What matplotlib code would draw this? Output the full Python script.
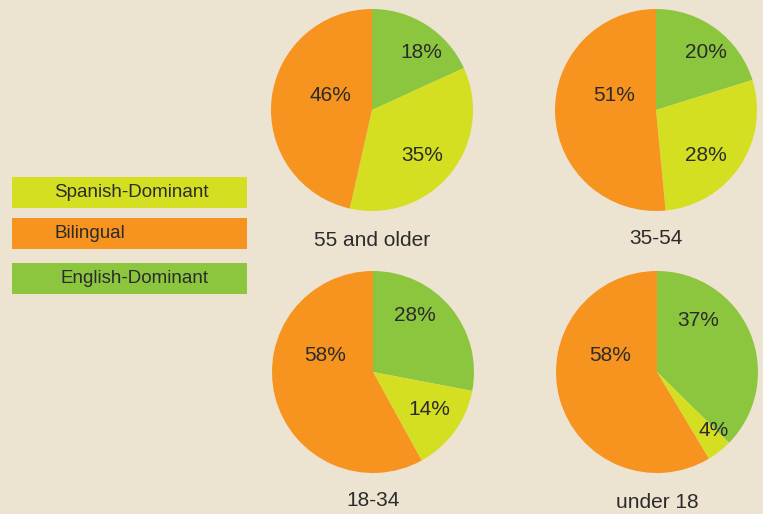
"""Language dominance by age group, four pies with a box legend"""

import matplotlib
matplotlib.use('Agg')
import matplotlib.pyplot as plt
from matplotlib.patches import Rectangle

plt.rcParams['font.family'] = ['Liberation Sans', 'DejaVu Sans']

W, H = 763, 514

# data: clockwise from 12 o'clock -> English, Spanish, Bilingual
groups = ['55 and older', '35-54', '18-34', 'under 18']
english = [18, 20, 28, 37]
spanish = [35, 28, 14, 4]
bilingual = [46, 51, 58, 58]

categories = ['Spanish-Dominant', 'Bilingual', 'English-Dominant']

BG = '#ede3d1'
C_SPA = '#d5df22'
C_BIL = '#f7931f'
C_ENG = '#8cc63f'
TXT = '#2b2b2b'

# layout (pixels): pie centres, radius, title baselines
centres = [(372, 110), (656, 110), (373, 372), (657, 372)]
radius = 101
title_y = [240, 238, 500, 502]
# percent label offsets in units of radius: english, spanish, bilingual
label_pos = [
    [(0.49, 0.57), (0.50, -0.45), (-0.41, 0.14)],
    [(0.49, 0.57), (0.49, -0.45), (-0.41, 0.14)],
    [(0.41, 0.56), (0.56, -0.37), (-0.47, 0.16)],
    [(0.41, 0.51), (0.56, -0.58), (-0.46, 0.16)],
]


def plot_pie(fig, i):
    cx, cy = centres[i]
    ax = fig.add_axes([(cx - radius) / W, 1 - (cy + radius) / H,
                       2 * radius / W, 2 * radius / H])
    vals = [english[i], spanish[i], bilingual[i]]
    ax.pie(vals, colors=[C_ENG, C_SPA, C_BIL], startangle=90,
           counterclock=False, radius=1,
           wedgeprops=dict(linewidth=0))
    ax.set_xlim(-1, 1)
    ax.set_ylim(-1, 1)
    ax.set_aspect('equal')
    ax.axis('off')
    for v, (dx, dy) in zip(vals, label_pos[i]):
        ax.text(dx, dy, f'{v}%', ha='center', va='center',
                fontsize=15, color=TXT)
    fig.text(cx / W, 1 - title_y[i] / H, groups[i], ha='center',
             va='center', fontsize=15, color=TXT)


def plot_legend(fig):
    boxes = [(177, 208), (218, 249), (263, 294)]
    text_x = [54, 54, 61]
    cols = [C_SPA, C_BIL, C_ENG]
    for (y0, y1), tx, c, name in zip(boxes, text_x, cols, categories):
        fig.add_artist(Rectangle((12 / W, 1 - y1 / H), 235 / W,
                                 (y1 - y0) / H, transform=fig.transFigure,
                                 facecolor=c, edgecolor='none'))
        fig.text(tx / W, 1 - (y0 + y1) / 2 / H, name, ha='left',
                 va='center', fontsize=13.5, color=TXT)


def main():
    fig = plt.figure(figsize=(W / 100, H / 100), dpi=100, facecolor=BG)
    plot_legend(fig)
    for i in range(len(groups)):
        plot_pie(fig, i)
    fig.savefig('out.png', dpi=100, facecolor=BG)


if __name__ == "__main__":
    main()
